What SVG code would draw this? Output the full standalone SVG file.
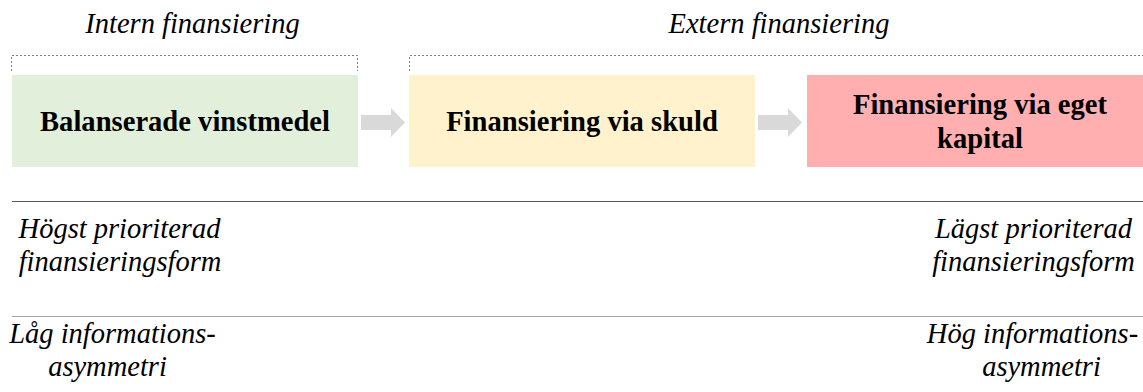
<svg xmlns="http://www.w3.org/2000/svg" width="1143" height="392" viewBox="0 0 1143 392">
<style>
.b{font-family:'Liberation Serif',Tinos,Times,'DejaVu Serif',serif;font-weight:700;font-size:28.6px;fill:#000;text-anchor:middle}
.i{font-family:'Liberation Serif',Tinos,Times,'DejaVu Serif',serif;font-style:italic;font-size:28.5px;fill:#000;text-anchor:middle}
.br{fill:none;stroke:#7f7f7f;stroke-width:1;stroke-dasharray:2 2}
.arr{fill:#d9d9d9}
</style>
<rect width="1143" height="392" fill="#fff"/>
<g id="label-intern">
<text class="i" x="192.5" y="33">Intern finansiering</text>
<path class="br" d="M11.5 71V55.5H357.5V71"/>
</g>
<g id="label-extern">
<text class="i" x="779" y="33">Extern finansiering</text>
<path class="br" d="M409.5 71V55.5H1143"/>
</g>
<g id="node-balanserade">
<rect x="12" y="75" width="346" height="92" fill="#e2efda"/>
<text class="b" x="185" y="131">Balanserade vinstmedel</text>
</g>
<g id="node-skuld">
<rect x="409" y="75" width="346" height="92" fill="#fff2cc"/>
<text class="b" x="582" y="131">Finansiering via skuld</text>
</g>
<g id="node-eget">
<rect x="807" y="75" width="346" height="92" fill="#ffafaf"/>
<text class="b" x="980" y="114">Finansiering via eget</text>
<text class="b" x="980" y="148">kapital</text>
</g>
<g id="connectors">
<path class="arr" d="M361 115H391V108L405 122.5L391 137V130H361Z"/>
<path class="arr" d="M758 115H788V108L802 122.5L788 137V130H758Z"/>
</g>
<g id="rules">
<line x1="12" y1="201.5" x2="1143" y2="201.5" stroke="#595959" stroke-width="1"/>
<line x1="12" y1="316.5" x2="1143" y2="316.5" stroke="#a6a6a6" stroke-width="1.2"/>
</g>
<g id="text-hogst">
<text class="i" x="119.5" y="238">Högst prioriterad</text>
<text class="i" x="120" y="271">finansieringsform</text>
</g>
<g id="text-lagst">
<text class="i" x="1033.5" y="238">Lägst prioriterad</text>
<text class="i" x="1033.5" y="271">finansieringsform</text>
</g>
<g id="text-lag-info">
<text class="i" x="112.5" y="343">Låg informations-</text>
<text class="i" x="107.5" y="376">asymmetri</text>
</g>
<g id="text-hog-info">
<text class="i" x="1032.5" y="343">Hög informations-</text>
<text class="i" x="1041.5" y="376">asymmetri</text>
</g>
</svg>
